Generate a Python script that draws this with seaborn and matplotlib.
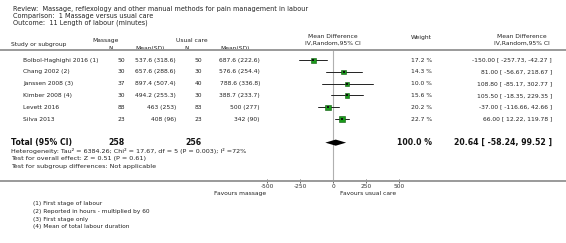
import matplotlib
matplotlib.use("Agg")
import matplotlib.pyplot as plt
import matplotlib.transforms as mtransforms
import seaborn as sns
import numpy as np

# ---------------- data ----------------
studies = ["Bolbol-Haghighi 2016 (1)", "Chang 2002 (2)", "Janssen 2008 (3)",
           "Kimber 2008 (4)", "Levett 2016", "Silva 2013"]
mass_n = [50, 30, 37, 30, 88, 23]
mass_mean = [537.6, 657.6, 897.4, 494.2, 463, 408]
mass_sd = [318.6, 288.6, 507.4, 255.3, 253, 96]
usual_n = [50, 30, 40, 30, 83, 23]
usual_mean = [687.6, 576.6, 788.6, 388.7, 500, 342]
usual_sd = [222.6, 254.4, 336.8, 233.7, 277, 90]
weights = [17.2, 14.3, 10.0, 15.6, 20.2, 22.7]
md = [-150.00, 81.00, 108.80, 105.50, -37.00, 66.00]
ci_lo = [-257.73, -56.67, -85.17, -18.35, -116.66, 12.22]
ci_hi = [-42.27, 218.67, 302.77, 229.35, 42.66, 119.78]
total_n = [258, 256]
total_md, total_lo, total_hi = 20.64, -58.24, 99.52
total_weight = 100.0
xticks = [-500, -250, 0, 250, 500]
footnotes = ["(1) First stage of labour", "(2) Reported in hours - multiplied by 60",
             "(3) First stage only", "(4) Mean of total labour duration"]
title_lines = ["Review:  Massage, reflexology and other manual methods for pain management in labour",
               "Comparison:  1 Massage versus usual care",
               "Outcome:  11 Length of labour (minutes)"]
heterogeneity = ["Heterogeneity: Tau\u00b2 = 6384.26; Chi\u00b2 = 17.67, df = 5 (P = 0.003); I\u00b2 =72%",
                 "Test for overall effect: Z = 0.51 (P = 0.61)",
                 "Test for subgroup differences: Not applicable"]

# ---------------- figure ----------------
sns.set_theme(style="white")
plt.rcParams['font.family'] = ['DejaVu Sans']
W, H = 566, 243
fig = plt.figure(figsize=(W / 100, H / 100), dpi=100)
fig.patch.set_facecolor("white")

bg = fig.add_axes([0, 0, 1, 1])
bg.set_xlim(0, W)
bg.set_ylim(H, 0)
bg.axis("off")

# forest axes spanning full width: 0 at x=333 px, 250 units = 33 px
ppu = 33 / 250.0
top_px, bot_px = 50, 181
fx = fig.add_axes([0, 1 - bot_px / H, 1, (bot_px - top_px) / H])
fx.set_xlim(-333 / ppu, (W - 333) / ppu)
rows = np.arange(len(studies))
total_row = 7.0
fx.set_ylim(10.25, -0.85)
fx.patch.set_alpha(0)
for s in ["left", "right"]:
    fx.spines[s].set_visible(False)
fx.spines["top"].set_color("#9a9a9a")
fx.spines["top"].set_linewidth(1.4)
fx.spines["bottom"].set_color("#9a9a9a")
fx.spines["bottom"].set_linewidth(1.4)
fx.set_yticks([])
fx.set_xticks(xticks)
fx.set_xticklabels([str(t) for t in xticks])
fx.tick_params(axis="x", direction="inout", length=3, width=0.6, color="#555555",
               labelsize=4.2, pad=0.5, labelcolor="#333333", bottom=True)

fx.axvline(0, color="#b0b0b0", lw=0.8, zorder=1)

# CI lines
for r, lo, hi in zip(rows, ci_lo, ci_hi):
    fx.plot([lo, hi], [r, r], color="#222222", lw=0.7, zorder=2)

# weighted squares
sns.scatterplot(x=md, y=rows, size=weights, sizes=(7.5, 17), size_norm=(10, 22.7),
                marker="s", color="#1a9a1a", edgecolor="#0b5a0b", linewidth=0.4,
                legend=False, ax=fx, zorder=3)
fx.scatter(md, rows, s=1.8, marker="s", color="#111111", zorder=4, linewidths=0)

# diamond
fx.fill([total_lo, total_md, total_hi, total_md],
        [total_row, total_row - 0.26, total_row, total_row + 0.26],
        color="black", zorder=3, lw=0)
fx.set_xlabel("")
fx.set_ylabel("")

# ---------------- text ----------------
tc = "#222222"
row_tr = mtransforms.blended_transform_factory(bg.transData, fx.transData)

for i, t in enumerate(title_lines):
    bg.text(13, 9 + i * 6.7, t, fontsize=4.7, color=tc, va="center", ha="left")

# header
hs = 4.3
bg.text(11, 44.5, "Study or subgroup", fontsize=hs, color=tc, va="center")
bg.text(106, 40.5, "Massage", fontsize=hs, color=tc, va="center", ha="center")
bg.text(111, 48, "N", fontsize=hs, color=tc, va="center", ha="center")
bg.text(150, 48, "Mean(SD)", fontsize=hs, color=tc, va="center", ha="center")
bg.text(192, 40.5, "Usual care", fontsize=hs, color=tc, va="center", ha="center")
bg.text(187, 48, "N", fontsize=hs, color=tc, va="center", ha="center")
bg.text(235, 48, "Mean(SD)", fontsize=hs, color=tc, va="center", ha="center")
bg.text(333, 36, "Mean Difference", fontsize=hs, color=tc, va="center", ha="center")
bg.text(333, 43, "IV,Random,95% CI", fontsize=hs, color=tc, va="center", ha="center")
bg.text(421, 38, "Weight", fontsize=hs, color=tc, va="center", ha="center")
bg.text(522, 36, "Mean Difference", fontsize=hs, color=tc, va="center", ha="center")
bg.text(522, 43, "IV,Random,95% CI", fontsize=hs, color=tc, va="center", ha="center")

fs = 4.35
for r, name, mn, mm, msd, un, um, usd, w, m, lo, hi in zip(
        rows, studies, mass_n, mass_mean, mass_sd, usual_n, usual_mean, usual_sd,
        weights, md, ci_lo, ci_hi):
    kw = dict(fontsize=fs, color=tc, va="center", transform=row_tr)
    fx.text(23, r, name, ha="left", **kw)
    fx.text(125, r, f"{mn}", ha="right", **kw)
    fx.text(176, r, f"{mm:g} ({msd:g})", ha="right", **kw)
    fx.text(202, r, f"{un}", ha="right", **kw)
    fx.text(260, r, f"{um:g} ({usd:g})", ha="right", **kw)
    fx.text(432, r, f"{w:.1f} %", ha="right", **kw)
    fx.text(552, r, f"{m:.2f} [ {lo:.2f}, {hi:.2f} ]", ha="right", **kw)

kwb = dict(fontsize=5.6, color="#111111", va="center", fontweight="bold", transform=row_tr)
fx.text(11, total_row, "Total (95% CI)", ha="left", **kwb)
fx.text(125, total_row, f"{total_n[0]}", ha="right", **kwb)
fx.text(202, total_row, f"{total_n[1]}", ha="right", **kwb)
fx.text(432, total_row, f"{total_weight:.1f} %", ha="right", **kwb)
fx.text(552, total_row, f"{total_md:.2f} [ {total_lo:.2f}, {total_hi:.2f} ]", ha="right", **kwb)

for i, t in enumerate(heterogeneity):
    bg.text(11, 151 + i * 7.5, t, fontsize=4.6, color=tc, va="center", ha="left")

bg.text(266, 193, "Favours massage", fontsize=4.3, color=tc, va="center", ha="right")
bg.text(340, 193, "Favours usual care", fontsize=4.3, color=tc, va="center", ha="left")

for i, t in enumerate(footnotes):
    bg.text(33, 203.5 + i * 7.8, t, fontsize=4.2, color=tc, va="center", ha="left")

fig.savefig("out.png", dpi=100, facecolor="white")
